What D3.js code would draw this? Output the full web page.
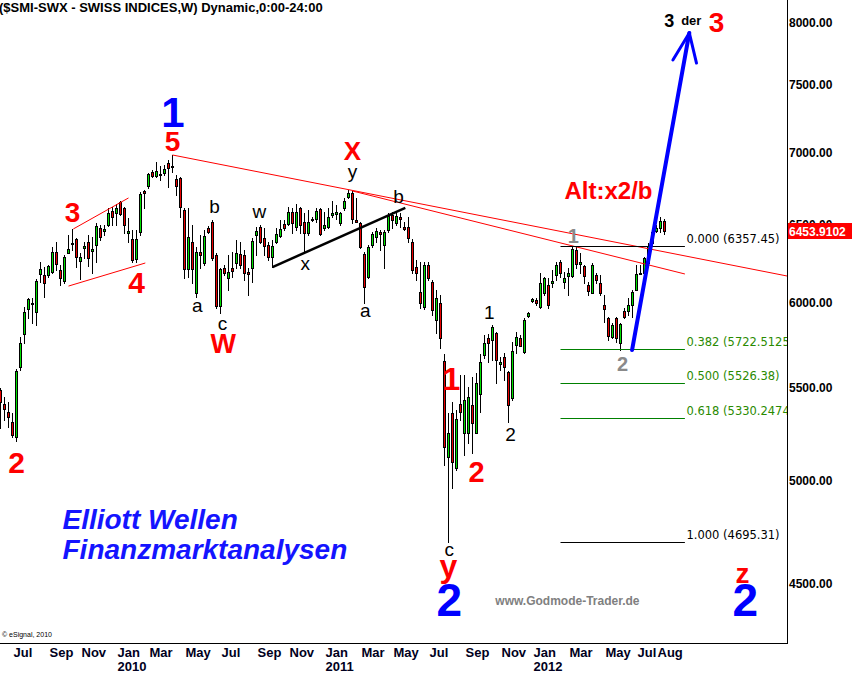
<!DOCTYPE html>
<html><head><meta charset="utf-8">
<script src="https://cdn.jsdelivr.net/npm/d3@7"></script>
<style>body{margin:0;background:#fff;} svg{display:block;}</style>
</head><body>
<svg id="c" width="852" height="674"></svg>
<script>
// ---------- DATA ----------
const firstWeek = "2009-06-15"; // Monday of first weekly bar
const open = [5485,5407,5363,5308,5227,5616,5809,5960,5991,5942,
6178,6171,6171,6190,6319,6203,6133,6313,6371,6404,
6261,6345,6384,6326,6364,6477,6457,6497,6590,6577,
6652,6611,6443,6404,6274,6450,6727,6762,6859,6831,
6838,6852,6923,6894,6810,6817,6597,6209,6384,6058,
6319,6248,6477,6517,6300,5979,6216,6153,6216,6248,
6306,6300,6190,6216,6430,6483,6410,6364,6287,6384,
6423,6503,6503,6584,6483,6611,6517,6443,6530,6537,
6604,6477,6483,6563,6570,6510,6611,6686,6713,6530,
6510,6306,6159,6364,6417,6450,6364,6463,6563,6510,
6550,6483,6483,6384,6222,6065,5972,6235,6127,5893,
5997,5650,5121,5357,5063,5407,5248,5248,5401,5248,
5463,5685,5786,5774,5815,5633,5673,5588,5440,5744,
5786,5703,5917,6008,6015,5972,6058,6108,6121,6171,
6254,6127,6165,6165,6332,6241,6228,6108,6058,6171,
6121,5985,5905,5792,5905,5756,5948,5948,5985,6077,
6178,6184,6248,6377,6457,6477,6523];
const high = [5496,5446,5418,5357,5605,5792,5972,6027,6027,6146,
6254,6222,6235,6351,6384,6235,6300,6430,6470,6410,
6313,6384,6430,6417,6510,6497,6497,6611,6618,6638,
6659,6618,6543,6463,6463,6720,6734,6852,6873,6930,
6901,6908,6944,6980,6838,6824,6611,6611,6497,6351,
6430,6463,6490,6530,6313,6216,6235,6300,6319,6397,
6384,6332,6216,6410,6483,6497,6477,6384,6397,6477,
6530,6530,6618,6611,6638,6618,6577,6597,6550,6611,
6611,6584,6611,6659,6631,6584,6679,6734,6727,6679,
6517,6319,6364,6450,6477,6463,6463,6577,6584,6584,
6577,6517,6550,6404,6267,6254,6254,6254,6140,6077,
6046,5690,5357,5418,5374,5570,5570,5502,5559,5582,
5690,5803,5809,5863,5821,5673,5697,5593,5762,5821,
5803,5905,5942,6027,6027,6184,6159,6153,6203,6254,
6267,6190,6216,6351,6351,6313,6235,6127,6248,6184,
6171,6046,5911,5875,5911,5875,5966,6027,6077,6235,
6235,6287,6377,6463,6497,6550,6537];
const low = [5275,5319,5280,5227,5205,5599,5756,5905,5875,5863,
6127,6033,6159,6184,6203,6108,6121,6313,6332,6222,
6146,6280,6228,6184,6254,6397,6430,6490,6497,6497,
6563,6443,6384,6254,6254,6430,6611,6748,6824,6824,
6803,6838,6755,6859,6699,6550,6153,6159,6121,6033,
6216,6235,6443,6267,5966,5936,6171,6077,6159,6216,
6216,6140,6046,6127,6300,6377,6300,6267,6222,6377,
6417,6463,6497,6443,6463,6443,6319,6430,6523,6517,
6430,6463,6477,6550,6537,6497,6597,6679,6510,6517,
6345,5997,6153,6351,6384,6332,6216,6450,6477,6497,
6483,6463,6384,6184,6140,5966,5960,6140,5923,5815,
5727,5079,4695.31,4960,5053,5319,5131,5195,5141,5248,
5363,5668,5645,5656,5525,5599,5542,5308,5429,5697,
5750,5697,5911,6002,5985,5966,6046,5966,6096,6140,
6159,6089,6046,6159,6216,6184,6121,6046,6058,6121,
6046,5881,5774,5786,5762,5715,5905,5923,5911,6077,
6178,6171,6235,6364,6450,6450,6437];
const close = [5418,5379,5335,5237,5593,5756,5942,6021,5997,6133,
6209,6121,6228,6319,6241,6153,6287,6338,6377,6287,
6287,6358,6280,6338,6490,6417,6470,6577,6550,6611,
6570,6497,6457,6267,6404,6706,6713,6845,6831,6866,
6845,6880,6887,6901,6762,6618,6209,6417,6209,6319,
6300,6423,6450,6280,5979,6209,6184,6190,6197,6313,
6235,6184,6178,6391,6457,6384,6358,6287,6358,6437,
6470,6477,6584,6510,6584,6497,6443,6517,6537,6590,
6437,6497,6550,6577,6584,6577,6659,6713,6537,6517,
6351,6096,6351,6437,6457,6437,6450,6557,6530,6557,
6537,6470,6410,6203,6184,5997,6235,6153,5954,6027,
5786,5173,5248,5095,5324,5363,5429,5446,5302,5525,
5645,5756,5756,5851,5656,5645,5616,5401,5709,5792,
5738,5893,5936,6021,5997,6121,6153,5985,6133,6235,
6184,6153,6184,6338,6241,6254,6165,6071,6235,6140,
6058,5960,5797,5863,5786,5869,5911,5985,6065,6178,
6184,6280,6358,6450,6477,6523,6453.91];
const lastValue = "6453.9102";
const yTickValues = [4500,5000,5500,6000,6500,7000,7500,8000];
const monthTicks = [["2009-07","Jul"],["2009-09","Sep"],["2009-11","Nov"],["2010-01","Jan"],["2010-03","Mar"],["2010-05","May"],["2010-07","Jul"],["2010-09","Sep"],["2010-11","Nov"],["2011-01","Jan"],["2011-03","Mar"],["2011-05","May"],["2011-07","Jul"],["2011-09","Sep"],["2011-11","Nov"],["2012-01","Jan"],["2012-03","Mar"],["2012-05","May"],["2012-07","Jul"],["2012-08","Aug"]];
const yearTicks = [["2010-01","2010"],["2011-01","2011"],["2012-01","2012"]];
const fibRatios = ["0.000","0.382","0.500","0.618","1.000"];
const fibValues = ["6357.45","5722.5125","5526.38","5330.2474","4695.31"];
const fibColors = ["#000","#008000","#008000","#008000","#000"];

// ---------- SCALES ----------
const W = 852, H = 674, plotR = 787, plotB = 643;
const t0 = new Date(firstWeek + "T00:00:00Z");
const barDate = i => new Date(t0.getTime() + i * 7 * 864e5);
const x = d3.scaleUtc().domain([t0, barDate(100)]).range([0.5, 400.5]);
const xi = i => x(barDate(i));
const y = d3.scaleLog().domain([4500, 8000]).range([583, 22]);

const svg = d3.select("#c");
svg.append("rect").attr("width", W).attr("height", H).attr("fill", "#fff");
svg.append("defs").append("clipPath").attr("id", "pc")
  .append("rect").attr("x", 0).attr("y", 0).attr("width", plotR).attr("height", plotB);
const plot = svg.append("g").attr("clip-path", "url(#pc)");
const F = "'Liberation Sans', Arial, sans-serif";

// ---------- CANDLES ----------
const bars = open.map((o, i) => ({i, o, h: high[i], l: low[i], c: close[i]}));
const cg = plot.append("g").attr("shape-rendering", "crispEdges");
bars.forEach(b => {
  const cx = xi(b.i);
  const yh = Math.round(y(b.h)), yl = Math.round(y(b.l));
  cg.append("rect").attr("x", cx - 0.5).attr("y", yh).attr("width", 1).attr("height", Math.max(1, yl - yh + 1)).attr("fill", "#000");
  const yt = Math.round(y(Math.max(b.o, b.c))), yb = Math.round(y(Math.min(b.o, b.c)));
  const hh = Math.max(1, yb - yt + 1);
  cg.append("rect").attr("x", cx - 1.5).attr("y", yt).attr("width", 3).attr("height", hh).attr("fill", "#000");
  if (hh > 2) cg.append("rect").attr("x", cx - 0.5).attr("y", yt + 1).attr("width", 1).attr("height", hh - 2)
    .attr("fill", b.c >= b.o ? "#00e000" : "#e80000");
});

// ---------- TREND LINES ----------
const segs = [
  {a:[43, 6980], b:[196.7, 6165], c:"#ff0000", w:1},
  {a:[88, 6727], b:[171.1, 6178], c:"#ff0000", w:1},
  {a:[18.2, 6470], b:[32, 6679], c:"#ff0000", w:1},
  {a:[17, 6102], b:[36.2, 6248], c:"#ff0000", w:1},
  {a:[68, 6222], b:[101.2, 6611], c:"#000", w:2.5}
];
segs.forEach(s => plot.append("line")
  .attr("x1", xi(s.a[0])).attr("y1", y(s.a[1])).attr("x2", xi(s.b[0])).attr("y2", y(s.b[1]))
  .attr("stroke", s.c).attr("stroke-width", s.w));

// Fibonacci levels
fibValues.forEach((v, k) => {
  const yy = Math.round(y(+v)) + 0.5;
  plot.append("line").attr("x1", xi(140)).attr("x2", xi(171.1)).attr("y1", yy).attr("y2", yy)
    .attr("stroke", fibColors[k]).attr("stroke-width", 1);
  plot.append("text").attr("x", xi(171.5)).attr("y", yy - 3.5)
    .attr("font-family", "'DejaVu Sans', Verdana, sans-serif").attr("font-size", 11.5)
    .attr("fill", k === 0 || k === 4 ? "#000" : "#2a8a00")
    .text(fibRatios[k] + " (" + v + ")");
});

// Blue arrow
const arrow = [[157.9, 5715], [172.2, 7911]];
plot.append("line").attr("x1", xi(arrow[0][0])).attr("y1", y(arrow[0][1])).attr("x2", xi(arrow[1][0])).attr("y2", y(arrow[1][1]))
  .attr("stroke", "#0000ff").attr("stroke-width", 4).attr("stroke-linecap", "round");
[[168.1, 7694], [174, 7670]].forEach(p => plot.append("line")
  .attr("x1", xi(arrow[1][0])).attr("y1", y(arrow[1][1])).attr("x2", xi(p[0])).attr("y2", y(p[1]))
  .attr("stroke", "#0000ff").attr("stroke-width", 3).attr("stroke-linecap", "round"));

// ---------- ANNOTATIONS ----------
const RED = "#ff0000", BLUE = "#0000ff", GRAY = "#8a8a8a";
const notes = [
  ["1", 43.1, 7180, 42, BLUE, "bold"],
  ["5", 43, 7009, 28, RED, "bold"],
  ["3", 18, 6517, 28, RED, "bold"],
  ["4", 34, 6058, 30, RED, "bold"],
  ["2", 4, 5037, 30, RED, "bold"],
  ["a", 49.2, 5942, 19, "#000", "normal"],
  ["b", 53.5, 6577, 19, "#000", "normal"],
  ["c", 55.5, 5833, 19, "#000", "normal"],
  ["W", 55.7, 5697, 27, RED, "bold"],
  ["w", 64.7, 6543, 19, "#000", "normal"],
  ["x", 76.2, 6203, 19, "#000", "normal"],
  ["X", 88, 6944, 26, RED, "bold"],
  ["y", 88, 6817, 19, "#000", "normal"],
  ["b", 99.5, 6645, 19, "#000", "normal"],
  ["a", 91.2, 5911, 19, "#000", "normal"],
  ["1", 112.7, 5485, 32, RED, "bold"],
  ["2", 119, 4991, 29, RED, "bold"],
  ["1", 122.2, 5899, 19, "#000", "normal"],
  ["2", 127.5, 5205, 19, "#000", "normal"],
  ["c", 112.2, 4627, 19, "#000", "normal"],
  ["y", 112, 4528, 32, RED, "bold"],
  ["2", 112.2, 4350, 46, BLUE, "bold"],
  ["1", 143.2, 6377, 20, GRAY, "bold"],
  ["2", 155.5, 5593, 20, GRAY, "bold"],
  ["3", 167.2, 7959, 18, "#000", "bold"],
  ["der", 172.7, 7975, 13, "#000", "bold"],
  ["3", 179, 7919, 28, RED, "bold"],
  ["z", 185.5, 4500, 28, RED, "bold"],
  ["2", 186.2, 4350, 46, BLUE, "bold"]
];
notes.forEach(n => plot.append("text").attr("x", xi(n[1])).attr("y", y(n[2]))
  .attr("text-anchor", "middle").attr("font-family", F).attr("font-size", n[3])
  .attr("font-weight", n[5]).attr("fill", n[4]).text(n[0]));

const leftNotes = [
  ["Alt:x2/b", 141, 6672, 24, RED, "bold", "normal"],
  ["Elliott Wellen", 15.5, 4755, 28, "#1414ff", "bold", "italic"],
  ["Finanzmarktanalysen", 15.5, 4612, 28, "#1414ff", "bold", "italic"],
  ["www.Godmode-Trader.de", 123.7, 4400, 12, "#808080", "bold", "normal"]
];
leftNotes.forEach(n => plot.append("text").attr("x", xi(n[1])).attr("y", y(n[2]))
  .attr("font-family", F).attr("font-size", n[3]).attr("font-weight", n[5])
  .attr("font-style", n[6]).attr("fill", n[4]).text(n[0]));

svg.append("text").attr("x", 2).attr("y", 637).attr("font-family", F).attr("font-size", 7)
  .attr("fill", "#000").text("© eSignal, 2010");

// Title
svg.append("text").attr("x", -1).attr("y", 12).attr("font-family", F).attr("font-size", 13)
  .attr("font-weight", "bold").attr("fill", "#000").text("($SMI-SWX - SWISS INDICES,W) Dynamic,0:00-24:00");

// ---------- AXES ----------
svg.append("line").attr("x1", plotR + 0.5).attr("x2", plotR + 0.5).attr("y1", 0).attr("y2", plotB + 1)
  .attr("stroke", "#000").attr("stroke-width", 1);
svg.append("line").attr("x1", 0).attr("x2", plotR + 1).attr("y1", plotB + 0.5).attr("y2", plotB + 0.5)
  .attr("stroke", "#000").attr("stroke-width", 1);

yTickValues.forEach(v => svg.append("text").attr("x", plotR + 2).attr("y", y(v) + 4.5)
  .attr("font-family", F).attr("font-size", 12).attr("font-weight", "bold").attr("fill", "#000")
  .text(d3.format(".2f")(v)));

const ly = y(close[close.length - 1]);
svg.append("rect").attr("x", plotR + 1).attr("y", Math.round(ly) - 8).attr("width", W - plotR - 1).attr("height", 16).attr("fill", "#ff0000");
svg.append("text").attr("x", plotR + 2).attr("y", Math.round(ly) + 4.5).attr("font-family", F).attr("font-size", 12)
  .attr("font-weight", "bold").attr("fill", "#fff").text(lastValue);

const firstMonday = s => d3.utcMonday.ceil(new Date(s + "-01T00:00:00Z"));
monthTicks.forEach(m => svg.append("text").attr("x", x(firstMonday(m[0])) + 1).attr("y", 657)
  .attr("font-family", F).attr("font-size", 13).attr("font-weight", "bold").attr("fill", "#000020").text(m[1]));
yearTicks.forEach(m => svg.append("text").attr("x", x(firstMonday(m[0])) + 1).attr("y", 671)
  .attr("font-family", F).attr("font-size", 13).attr("font-weight", "bold").attr("fill", "#000020").text(m[1]));
</script>
</body></html>
